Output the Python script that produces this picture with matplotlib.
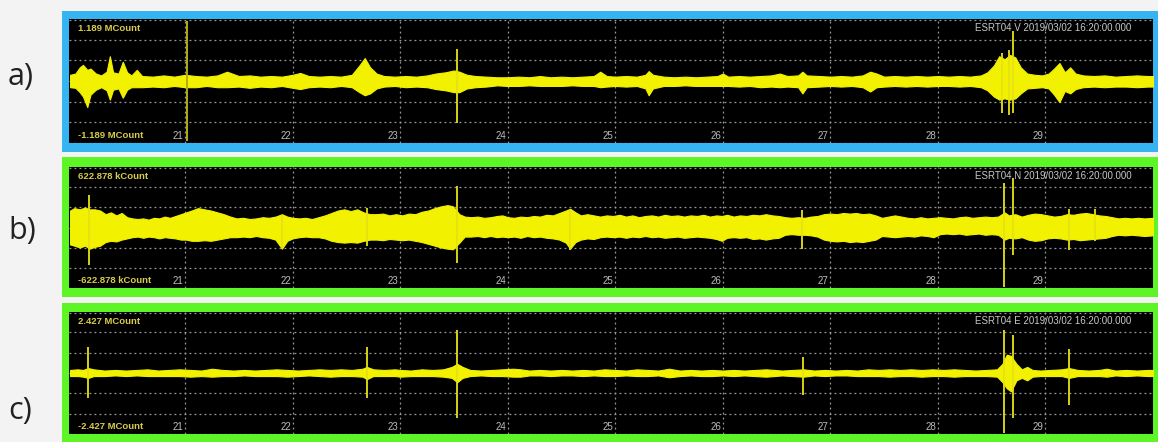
import numpy as np
import matplotlib.pyplot as plt
import matplotlib.patches as patches
import matplotlib.transforms as mtransforms

# ---- data (amplitudes normalised to full scale) ----
hour_ticks = [21, 22, 23, 24, 25, 26, 27, 28, 29]

# panel a) vertical component: envelope keypoints (time, upper, lower)
v_time = [19.93, 19.98, 20.02, 20.05, 20.09, 20.12, 20.17, 20.22, 20.27, 20.30,
          20.33, 20.38, 20.42, 20.46, 20.50, 20.55, 20.60, 20.70, 20.80, 20.90,
          21.00, 21.10, 21.20, 21.30, 21.39, 21.50, 21.60, 21.70, 21.80, 21.90,
          22.00, 22.07, 22.15, 22.25, 22.35, 22.45, 22.55, 22.62, 22.67, 22.72,
          22.78, 22.85, 22.95, 23.05, 23.15, 23.25, 23.33, 23.42, 23.50, 23.55,
          23.62, 23.70, 23.80, 23.90, 24.00, 24.10, 24.20, 24.30, 24.40, 24.50,
          24.60, 24.70, 24.80, 24.86, 24.92, 25.00, 25.10, 25.20, 25.28, 25.31,
          25.35, 25.45, 25.55, 25.65, 25.75, 25.85, 25.95, 26.00, 26.05, 26.15,
          26.25, 26.35, 26.45, 26.53, 26.60, 26.70, 26.74, 26.78, 26.90, 27.00,
          27.10, 27.20, 27.30, 27.37, 27.43, 27.50, 27.60, 27.70, 27.80, 27.90,
          28.00, 28.10, 28.20, 28.30, 28.40, 28.46, 28.52, 28.57, 28.62, 28.67,
          28.72, 28.77, 28.83, 28.90, 28.97, 29.03, 29.08, 29.13, 29.18, 29.23,
          29.28, 29.35, 29.45, 29.55, 29.65, 29.75, 29.85, 29.95, 30.00]
v_upper = [0.10, 0.12, 0.22, 0.26, 0.18, 0.20, 0.12, 0.09, 0.15, 0.40,
           0.14, 0.12, 0.31, 0.14, 0.09, 0.18, 0.08, 0.07, 0.09, 0.07,
           0.10, 0.08, 0.07, 0.09, 0.15, 0.08, 0.09, 0.07, 0.08, 0.07,
           0.10, 0.13, 0.08, 0.07, 0.08, 0.07, 0.10, 0.25, 0.37, 0.22,
           0.12, 0.08, 0.07, 0.08, 0.07, 0.09, 0.12, 0.14, 0.17, 0.15,
           0.10, 0.08, 0.07, 0.06, 0.06, 0.07, 0.06, 0.08, 0.06, 0.07,
           0.06, 0.07, 0.08, 0.15, 0.08, 0.07, 0.08, 0.07, 0.10, 0.16,
           0.10, 0.07, 0.06, 0.07, 0.06, 0.07, 0.08, 0.12, 0.07, 0.08,
           0.07, 0.08, 0.09, 0.12, 0.08, 0.09, 0.15, 0.09, 0.08, 0.07,
           0.08, 0.07, 0.09, 0.15, 0.12, 0.07, 0.08, 0.07, 0.08, 0.07,
           0.08, 0.07, 0.08, 0.07, 0.09, 0.14, 0.25, 0.40, 0.35, 0.42,
           0.38, 0.22, 0.12, 0.10, 0.09, 0.12, 0.20, 0.29, 0.14, 0.22,
           0.12, 0.09, 0.08, 0.09, 0.07, 0.08, 0.09, 0.08, 0.08]
v_lower = [-0.10, -0.11, -0.18, -0.25, -0.42, -0.22, -0.14, -0.10, -0.15, -0.30,
           -0.14, -0.12, -0.27, -0.14, -0.10, -0.10, -0.10, -0.09, -0.10, -0.08,
           -0.10, -0.10, -0.08, -0.10, -0.10, -0.09, -0.11, -0.09, -0.10, -0.08,
           -0.11, -0.13, -0.10, -0.09, -0.10, -0.08, -0.10, -0.18, -0.23, -0.20,
           -0.12, -0.09, -0.08, -0.10, -0.09, -0.10, -0.13, -0.15, -0.18, -0.18,
           -0.12, -0.10, -0.09, -0.07, -0.08, -0.08, -0.07, -0.08, -0.08, -0.08,
           -0.07, -0.08, -0.08, -0.10, -0.09, -0.08, -0.09, -0.08, -0.12, -0.23,
           -0.12, -0.08, -0.08, -0.07, -0.08, -0.08, -0.08, -0.08, -0.08, -0.09,
           -0.08, -0.10, -0.09, -0.10, -0.09, -0.10, -0.20, -0.10, -0.09, -0.08,
           -0.09, -0.08, -0.10, -0.17, -0.10, -0.09, -0.08, -0.09, -0.08, -0.09,
           -0.08, -0.08, -0.09, -0.08, -0.10, -0.15, -0.25, -0.30, -0.28, -0.30,
           -0.28, -0.20, -0.12, -0.11, -0.10, -0.12, -0.22, -0.34, -0.16, -0.20,
           -0.13, -0.10, -0.09, -0.10, -0.09, -0.09, -0.10, -0.09, -0.09]
# isolated spikes (time, max, min)
v_spike_t = [23.53, 28.60, 28.66, 28.70]
v_spike_hi = [0.52, 0.45, 0.50, 0.81]
v_spike_lo = [-0.68, -0.52, -0.55, -0.52]
# full-height marker line near 21
v_marker_t = [21.02]

# panel b) north component
n_time = [19.93, 19.97, 20.02, 20.07, 20.11, 20.16, 20.21, 20.26, 20.31, 20.36,
          20.41, 20.46, 20.51, 20.56, 20.61, 20.66, 20.71, 20.76, 20.81, 20.86,
          20.91, 20.96, 21.01, 21.06, 21.12, 21.18, 21.24, 21.30, 21.36, 21.42,
          21.48, 21.54, 21.60, 21.66, 21.72, 21.78, 21.84, 21.90, 21.95, 22.00,
          22.06, 22.12, 22.18, 22.24, 22.30, 22.36, 22.42, 22.48, 22.54, 22.60,
          22.66, 22.72, 22.78, 22.84, 22.90, 22.96, 23.02, 23.08, 23.14, 23.20,
          23.26, 23.32, 23.38, 23.44, 23.49, 23.55, 23.60, 23.66, 23.72, 23.78,
          23.84, 23.90, 23.95, 24.00, 24.06, 24.12, 24.18, 24.24, 24.30, 24.36,
          24.42, 24.48, 24.54, 24.58, 24.63, 24.68, 24.74, 24.80, 24.86, 24.92,
          24.98, 25.04, 25.10, 25.16, 25.22, 25.28, 25.34, 25.40, 25.46, 25.52,
          25.58, 25.64, 25.70, 25.76, 25.82, 25.88, 25.94, 25.99, 26.04, 26.10,
          26.16, 26.22, 26.28, 26.34, 26.40, 26.46, 26.52, 26.58, 26.64, 26.70,
          26.76, 26.82, 26.88, 26.94, 27.00, 27.06, 27.12, 27.18, 27.24, 27.30,
          27.36, 27.42, 27.48, 27.54, 27.60, 27.66, 27.72, 27.78, 27.84, 27.90,
          27.96, 28.02, 28.08, 28.14, 28.20, 28.26, 28.32, 28.38, 28.44, 28.50,
          28.56, 28.62, 28.66, 28.72, 28.78, 28.84, 28.90, 28.96, 29.02, 29.08,
          29.14, 29.20, 29.26, 29.32, 29.38, 29.44, 29.50, 29.56, 29.62, 29.68,
          29.74, 29.80, 29.86, 29.92, 30.00]
n_upper = [0.28, 0.32, 0.30, 0.33, 0.30, 0.30, 0.28, 0.22, 0.25, 0.20,
           0.24, 0.17, 0.15, 0.14, 0.15, 0.13, 0.16, 0.15, 0.18, 0.16,
           0.19, 0.22, 0.25, 0.28, 0.32, 0.30, 0.28, 0.25, 0.22, 0.18,
           0.15, 0.16, 0.14, 0.15, 0.17, 0.16, 0.18, 0.22, 0.18, 0.16,
           0.15, 0.16, 0.14, 0.17, 0.20, 0.24, 0.28, 0.30, 0.27, 0.30,
           0.25, 0.22, 0.22, 0.23, 0.20, 0.22, 0.20, 0.23, 0.22, 0.26,
           0.28, 0.32, 0.35, 0.37, 0.35, 0.22, 0.18, 0.17, 0.18, 0.16,
           0.17, 0.19, 0.20, 0.17, 0.16, 0.18, 0.17, 0.19, 0.18, 0.21,
           0.20, 0.24, 0.28, 0.31, 0.25, 0.20, 0.22, 0.20, 0.18, 0.20,
           0.19, 0.21, 0.18, 0.20, 0.17, 0.19, 0.20, 0.18, 0.21, 0.19,
           0.20, 0.18, 0.20, 0.19, 0.21, 0.18, 0.20, 0.19, 0.21, 0.18,
           0.20, 0.19, 0.21, 0.20, 0.22, 0.20, 0.19, 0.17, 0.16, 0.17,
           0.16, 0.18, 0.19, 0.22, 0.23, 0.22, 0.24, 0.23, 0.24, 0.22,
           0.23, 0.20, 0.16, 0.18, 0.20, 0.18, 0.16, 0.15, 0.17, 0.15,
           0.16, 0.17, 0.16, 0.15, 0.17, 0.18, 0.16, 0.17, 0.18, 0.17,
           0.18, 0.25, 0.20, 0.22, 0.18, 0.21, 0.23, 0.22, 0.20, 0.18,
           0.19, 0.22, 0.21, 0.23, 0.24, 0.22, 0.20, 0.19, 0.17, 0.15,
           0.16, 0.15, 0.16, 0.15, 0.16]
n_lower = [-0.28, -0.30, -0.33, -0.30, -0.35, -0.32, -0.30, -0.24, -0.22, -0.23,
           -0.20, -0.18, -0.16, -0.15, -0.17, -0.15, -0.16, -0.18, -0.16, -0.17,
           -0.18, -0.20, -0.20, -0.22, -0.22, -0.21, -0.22, -0.20, -0.18, -0.16,
           -0.16, -0.15, -0.16, -0.14, -0.16, -0.17, -0.20, -0.35, -0.22, -0.18,
           -0.16, -0.15, -0.16, -0.16, -0.18, -0.22, -0.24, -0.25, -0.24, -0.25,
           -0.22, -0.20, -0.20, -0.21, -0.19, -0.20, -0.21, -0.20, -0.22, -0.24,
           -0.27, -0.30, -0.33, -0.35, -0.36, -0.25, -0.15, -0.15, -0.14, -0.16,
           -0.14, -0.16, -0.15, -0.16, -0.15, -0.17, -0.14, -0.16, -0.15, -0.17,
           -0.18, -0.20, -0.25, -0.35, -0.24, -0.20, -0.18, -0.19, -0.16, -0.15,
           -0.16, -0.15, -0.17, -0.15, -0.16, -0.14, -0.16, -0.15, -0.17, -0.16,
           -0.15, -0.17, -0.16, -0.15, -0.16, -0.17, -0.19, -0.22, -0.17, -0.16,
           -0.17, -0.16, -0.19, -0.18, -0.20, -0.18, -0.17, -0.12, -0.11, -0.12,
           -0.12, -0.13, -0.15, -0.20, -0.22, -0.23, -0.22, -0.24, -0.23, -0.24,
           -0.22, -0.20, -0.14, -0.15, -0.16, -0.15, -0.14, -0.15, -0.13, -0.14,
           -0.16, -0.11, -0.10, -0.11, -0.10, -0.12, -0.11, -0.10, -0.12, -0.11,
           -0.12, -0.20, -0.17, -0.18, -0.16, -0.20, -0.22, -0.21, -0.18, -0.17,
           -0.18, -0.20, -0.19, -0.21, -0.20, -0.19, -0.18, -0.17, -0.14, -0.12,
           -0.13, -0.12, -0.13, -0.14, -0.13]
n_spike_t = [20.11, 21.90, 22.69, 23.53, 24.58, 26.74, 28.61, 28.70, 29.22, 29.46]
n_spike_hi = [0.53, 0.20, 0.33, 0.68, 0.31, 0.29, 0.74, 0.82, 0.31, 0.31]
n_spike_lo = [-0.62, -0.35, -0.30, -0.59, -0.38, -0.35, -0.98, -0.46, -0.37, -0.22]

# panel c) east component
e_time = [19.93, 20.00, 20.05, 20.10, 20.15, 20.25, 20.35, 20.45, 20.55, 20.65,
          20.75, 20.85, 20.95, 21.05, 21.15, 21.25, 21.35, 21.45, 21.55, 21.65,
          21.75, 21.85, 21.95, 22.05, 22.15, 22.25, 22.35, 22.45, 22.55, 22.65,
          22.69, 22.75, 22.85, 22.95, 23.00, 23.10, 23.20, 23.30, 23.40, 23.48,
          23.53, 23.58, 23.65, 23.75, 23.85, 23.95, 24.05, 24.12, 24.20, 24.30,
          24.40, 24.50, 24.60, 24.70, 24.80, 24.90, 25.00, 25.10, 25.20, 25.30,
          25.40, 25.50, 25.60, 25.70, 25.80, 25.90, 26.00, 26.10, 26.20, 26.30,
          26.40, 26.48, 26.55, 26.65, 26.75, 26.85, 26.95, 27.05, 27.15, 27.25,
          27.35, 27.45, 27.55, 27.65, 27.75, 27.85, 27.95, 28.05, 28.15, 28.25,
          28.35, 28.45, 28.55, 28.60, 28.64, 28.68, 28.73, 28.78, 28.83, 28.88,
          28.95, 29.05, 29.15, 29.22, 29.30, 29.40, 29.50, 29.57, 29.65, 29.75,
          29.85, 29.95, 30.00]
e_upper = [0.05, 0.06, 0.05, 0.08, 0.06, 0.04, 0.05, 0.04, 0.05, 0.06,
           0.04, 0.05, 0.06, 0.05, 0.04, 0.07, 0.05, 0.04, 0.05, 0.04,
           0.05, 0.06, 0.05, 0.04, 0.05, 0.06, 0.05, 0.06, 0.05, 0.07,
           0.10, 0.06, 0.05, 0.06, 0.05, 0.04, 0.06, 0.05, 0.06, 0.10,
           0.15, 0.10, 0.05, 0.04, 0.05, 0.06, 0.07, 0.06, 0.04, 0.05,
           0.04, 0.05, 0.04, 0.05, 0.04, 0.06, 0.05, 0.04, 0.06, 0.05,
           0.04, 0.07, 0.04, 0.05, 0.04, 0.05, 0.04, 0.05, 0.04, 0.05,
           0.06, 0.05, 0.04, 0.05, 0.06, 0.04, 0.05, 0.04, 0.05, 0.04,
           0.06, 0.05, 0.06, 0.05, 0.06, 0.05, 0.06, 0.05, 0.06, 0.05,
           0.04, 0.05, 0.06, 0.15, 0.30, 0.28, 0.15, 0.06, 0.10, 0.05,
           0.04, 0.05, 0.06, 0.08, 0.05, 0.04, 0.05, 0.07, 0.04, 0.05,
           0.04, 0.05, 0.05]
e_lower = [-0.05, -0.05, -0.06, -0.08, -0.05, -0.05, -0.04, -0.05, -0.04, -0.05,
           -0.05, -0.05, -0.05, -0.06, -0.05, -0.06, -0.05, -0.05, -0.04, -0.05,
           -0.05, -0.05, -0.06, -0.05, -0.04, -0.05, -0.06, -0.05, -0.05, -0.06,
           -0.10, -0.05, -0.05, -0.05, -0.06, -0.05, -0.05, -0.05, -0.06, -0.08,
           -0.15, -0.08, -0.05, -0.04, -0.05, -0.05, -0.06, -0.06, -0.04, -0.04,
           -0.05, -0.04, -0.04, -0.05, -0.04, -0.05, -0.05, -0.04, -0.05, -0.05,
           -0.04, -0.07, -0.05, -0.04, -0.05, -0.05, -0.04, -0.05, -0.04, -0.05,
           -0.06, -0.05, -0.04, -0.05, -0.06, -0.04, -0.05, -0.04, -0.04, -0.05,
           -0.05, -0.05, -0.06, -0.05, -0.05, -0.06, -0.05, -0.05, -0.06, -0.05,
           -0.05, -0.05, -0.06, -0.15, -0.25, -0.30, -0.12, -0.08, -0.12, -0.06,
           -0.05, -0.05, -0.05, -0.08, -0.05, -0.05, -0.05, -0.06, -0.04, -0.05,
           -0.04, -0.05, -0.05]
e_spike_t = [20.10, 22.69, 23.53, 26.75, 28.61, 28.70, 29.22]
e_spike_hi = [0.43, 0.43, 0.70, 0.27, 0.70, 0.62, 0.40]
e_spike_lo = [-0.41, -0.41, -0.74, -0.36, -0.98, -0.74, -0.52]

panel_letters = ["a)", "b)", "c)"]
scale_labels = ["1.189 MCount", "622.878 kCount", "2.427 MCount"]
station_labels = ["ESRT04 V 2019/03/02 16:20:00.000",
                  "ESRT04 N 2019/03/02 16:20:00.000",
                  "ESRT04 E 2019/03/02 16:20:00.000"]

traces = [
    (v_time, v_upper, v_lower, v_spike_t, v_spike_hi, v_spike_lo),
    (n_time, n_upper, n_lower, n_spike_t, n_spike_hi, n_spike_lo),
    (e_time, e_upper, e_lower, e_spike_t, e_spike_hi, e_spike_lo),
]

# ---- layout (pixels of a 1158x442 canvas) ----
W, H = 1158, 442
plot_boxes = [(69, 19, 1153, 143), (69, 167, 1153, 288), (69, 312, 1153, 434)]
frame_boxes = [(62, 11, 1158, 152), (62, 157, 1158, 297), (62, 303, 1158, 445)]
frame_colors = ["#36b4f2", "#5ef526", "#5ef526"]
letter_y = [77, 231, 411]

fig = plt.figure(figsize=(W / 100, H / 100), dpi=100)
fig.patch.set_facecolor("#f3f3f3")

yellow = "#f2f200"
grid_kw = dict(color="#9a9a9a", linestyle=(0, (1.5, 2.5)), linewidth=0.9)

for i in range(3):
    fx0, fy0, fx1, fy1 = frame_boxes[i]
    fig.add_artist(patches.Rectangle((fx0 / W, 1 - fy1 / H), (fx1 - fx0) / W,
                                     (fy1 - fy0) / H, transform=fig.transFigure,
                                     facecolor=frame_colors[i], edgecolor="none",
                                     zorder=0))
    x0, y0, x1, y1 = plot_boxes[i]
    ax = fig.add_axes([x0 / W, 1 - y1 / H, (x1 - x0) / W, (y1 - y0) / H])
    ax.set_facecolor("black")
    for s in ax.spines.values():
        s.set_visible(False)

    t, up, lo, st, shi, slo = traces[i]
    ax.fill_between(t, lo, up, color=yellow, linewidth=0.8, zorder=3)
    ax.vlines(st, slo, shi, color="#e6e214", linewidth=1.3, zorder=4)
    if i == 0:
        ax.vlines(v_marker_t, -0.97, 0.97, color="#b4ae10", linewidth=1.4,
                  zorder=4)

    ax.set_xlim(19.92, 30.0)
    ax.set_ylim(-1.0, 1.0)
    ax.set_xticks(hour_ticks)
    ax.set_yticks([-1.0, -2 / 3, -1 / 3, 0, 1 / 3, 2 / 3, 0.99])
    ax.grid(True, **grid_kw)
    ax.set_axisbelow(True)
    ax.tick_params(length=0, labelbottom=False, labelleft=False)

    lab_kw = dict(fontsize=6.8, family="Liberation Sans", fontweight="bold",
                  transform=ax.transAxes, va="center", zorder=5)
    ax.text(0.008, 0.925, scale_labels[i], color="#d8cc4c", ha="left", **lab_kw)
    ax.text(0.008, 0.06, "-" + scale_labels[i], color="#d8cc4c", ha="left", **lab_kw)
    ax.text(0.98, 0.925, station_labels[i], color="#c8c8c8", ha="right",
            fontsize=7, family="Liberation Sans", transform=ax.transAxes,
            va="center", zorder=5)

    blend = mtransforms.blended_transform_factory(ax.transData, ax.transAxes)
    for h in hour_ticks:
        ax.text(h - 0.015, 0.06, str(h), color="#bdbdbd", fontsize=7,
                family="Liberation Sans", transform=blend, ha="right",
                va="center", zorder=5)

    fig.text(8 / W, 1 - letter_y[i] / H, panel_letters[i], fontsize=22,
             family="Open Sans", color="#222222", ha="left", va="center")

fig.savefig("out.png", dpi=100, facecolor=fig.get_facecolor())
